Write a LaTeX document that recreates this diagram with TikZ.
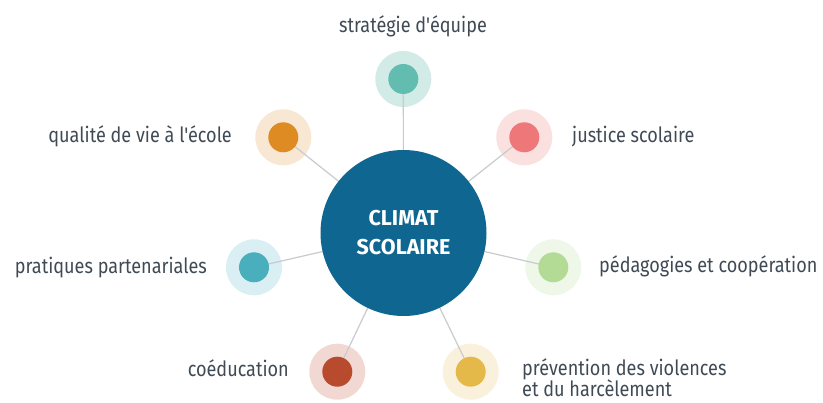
\documentclass[tikz,border=0pt]{standalone}
\usepackage{fontspec}
\setmainfont{Fira Sans}
\newfontfamily\lblfont[FakeStretch=0.86]{Fira Sans}
\definecolor{cblue}{HTML}{0F6690}
\definecolor{txt}{HTML}{3F4A55}
\definecolor{lin}{HTML}{C7CBCD}
\definecolor{tealA}{HTML}{62BDB0}\definecolor{tealB}{HTML}{D2EBE7}
\definecolor{oranA}{HTML}{DF8B24}\definecolor{oranB}{HTML}{F8E7D2}
\definecolor{pinkA}{HTML}{EE777A}\definecolor{pinkB}{HTML}{FBE0E0}
\definecolor{cyanA}{HTML}{4AAFBD}\definecolor{cyanB}{HTML}{DAEFF3}
\definecolor{grenA}{HTML}{B3DB96}\definecolor{grenB}{HTML}{EEF7E8}
\definecolor{brwnA}{HTML}{B84A2E}\definecolor{brwnB}{HTML}{F2D8D3}
\definecolor{yellA}{HTML}{E5B84A}\definecolor{yellB}{HTML}{FAF1DC}
\pgfdeclarelayer{halolayer}
\pgfdeclarelayer{linelayer}
\pgfsetlayers{halolayer,linelayer,main}
\begin{document}
\begin{tikzpicture}[x=1pt,y=-1pt,
  halo/.style={circle,inner sep=0pt,minimum size=56pt},
  dot/.style={circle,inner sep=0pt,minimum size=30pt},
  conn/.style={draw=lin,line width=1.2pt},
  lbl/.style={inner sep=0pt,text=txt,font=\lblfont\fontsize{21}{24}\selectfont},
  hub/.style={circle,fill=cblue,inner sep=0pt,minimum size=166pt,text=white,align=center,font=\bfseries\fontsize{21.5}{29}\selectfont}]
\useasboundingbox (0,0) rectangle (823,403);
\node[hub] (c) at (403.5,233) {CLIMAT\\SCOLAIRE};
\foreach \n/\x/\y/\a/\b in {t/403.3/79/tealA/tealB, ul/283.3/137.3/oranA/oranB, ur/524.3/137.3/pinkA/pinkB, l/254/267.3/cyanA/cyanB, r/553.3/267.3/grenA/grenB, ll/337.3/371.7/brwnA/brwnB, lr/470.7/371.7/yellA/yellB}{
  \begin{pgfonlayer}{halolayer}
  \node[halo,fill=\b] (h\n) at (\x,\y) {};
  \end{pgfonlayer}
  \node[dot,fill=\a] (d\n) at (\x,\y) {};
  \begin{pgfonlayer}{linelayer}
  \draw[conn] (d\n.center) -- (c.center);
  \end{pgfonlayer}
}
\node[lbl,anchor=base] (tt) at (413,33) {stratégie d'équipe};
\node[lbl,anchor=base west] (tur) at (572,143) {justice scolaire};
\node[lbl,anchor=base east] (tul) at (232,143) {qualité de vie à l'école};
\node[lbl,anchor=base east] (tl) at (207,274) {pratiques partenariales};
\node[lbl,anchor=base west] (tr) at (599,273) {pédagogies et coopération};
\node[lbl,anchor=base east] (tll) at (289,377) {coéducation};
\node[lbl,anchor=base west] (tlr1) at (522,376) {prévention des violences};
\node[lbl,anchor=base west] (tlr2) at (522,397) {et du harcèlement};
\end{tikzpicture}
\end{document}
